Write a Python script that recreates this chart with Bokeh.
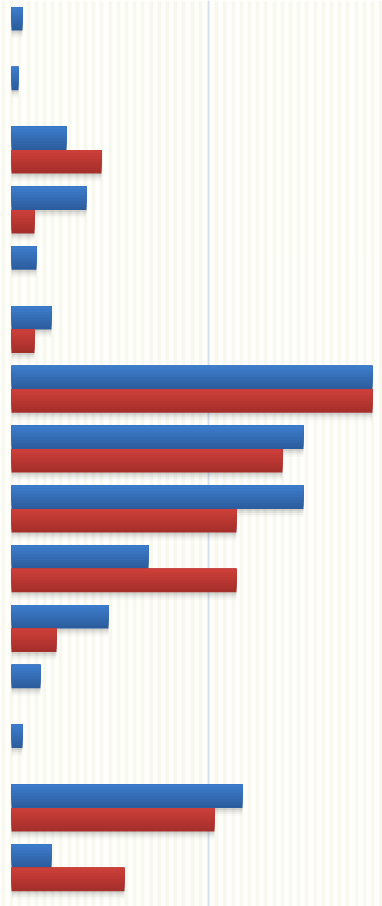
import numpy as np
from bokeh.plotting import figure
from bokeh.models import Range1d, Grid, FixedTicker, ColumnDataSource
from bokeh.transform import dodge
from bokeh.embed import file_html
from bokeh.resources import INLINE

# ---- data (horizontal scale in chart units) ----
categories = [f"Cat {i + 1}" for i in range(15)]
blue_values = [11, 7, 55, 75, 25, 40, 361, 292, 292, 137, 97, 29, 11, 231, 40]
red_values = [0, 0, 90, 23, 0, 23, 361, 271, 225, 225, 45, 0, 0, 203, 113]
grid_value = 197

W, H = 382, 906
PX_PER_CAT = 59.8
BAR_H = 23.5 / PX_PER_CAT

y_top = -30.0 / PX_PER_CAT
y_bottom = y_top + H / PX_PER_CAT

p = figure(width=W, height=H, output_backend="svg", toolbar_location=None,
           x_range=Range1d(-11, W - 11), y_range=Range1d(y_bottom, y_top),
           x_axis_type=None, y_axis_type=None, min_border=0,
           background_fill_color="#fefefc", border_fill_color="#fefefc",
           outline_line_color=None)

# faint vertical stripes
stripe_pos = list(np.arange(-11 + 3, W, 8.2))
p.add_layout(Grid(dimension=0, ticker=FixedTicker(ticks=stripe_pos),
                  grid_line_color="#f8f8ee", grid_line_width=3.5))
p.add_layout(Grid(dimension=0, ticker=FixedTicker(ticks=[grid_value]),
                  grid_line_color="#d3dfec", grid_line_width=1.5))

idx = np.arange(len(categories))
src = ColumnDataSource(dict(
    cat=categories,
    blue=blue_values,
    red=red_values,
    y_blue=idx - BAR_H / 2,
    y_red=idx + BAR_H / 2,
))

px = 1.0 / PX_PER_CAT
# soft shadows
for off, a in [(2, 0.07), (4, 0.05), (6, 0.035), (8, 0.02)]:
    for key, yk in [("blue", "y_blue"), ("red", "y_red")]:
        p.hbar(y=dodge(yk, off * px, range=p.y_range), right=key, left=0, height=BAR_H,
               source=src, fill_color="#000000", fill_alpha=a, line_color=None)


def lerp(c1, c2, t):
    a = [int(c1[i:i + 2], 16) for i in (1, 3, 5)]
    b = [int(c2[i:i + 2], 16) for i in (1, 3, 5)]
    return "#%02x%02x%02x" % tuple(round(a[j] + (b[j] - a[j]) * t) for j in range(3))


NB = 8
for key, yk, top_c, bot_c in [("blue", "y_blue", "#3c7bca", "#2c5e9f"),
                              ("red", "y_red", "#cc3e39", "#a52f2b")]:
    # base bar in the bottom colour, then lighter overlays anchored at the top
    for k in range(NB, 0, -1):
        frac = k / NB
        c = lerp(top_c, bot_c, (k - 1) / (NB - 1))
        off = -BAR_H / 2 + frac * BAR_H / 2
        p.hbar(y=dodge(yk, off, range=p.y_range), right=key, left=0,
               height=BAR_H * frac, source=src,
               fill_color=c, line_color=None)

open("out.html", "w").write(file_html(p, INLINE))
